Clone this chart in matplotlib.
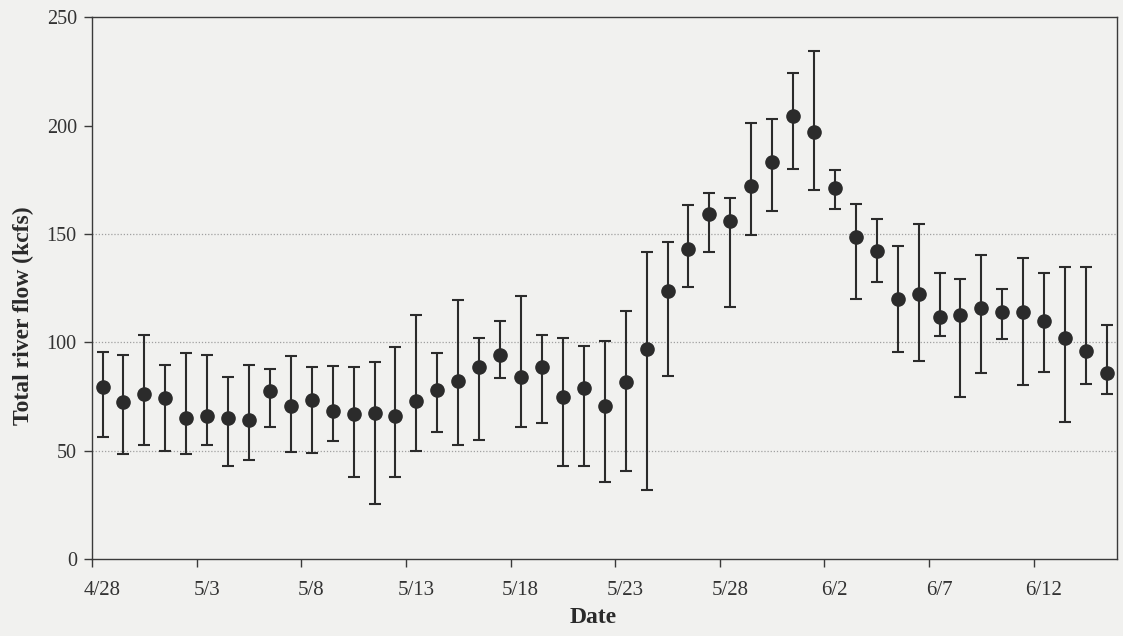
import numpy as np
import matplotlib
matplotlib.use("Agg")
import matplotlib.pyplot as plt
from matplotlib.transforms import ScaledTranslation

# tick labels along the date axis (every 5 days from 4/28)
tick_labels = ["4/28", "5/3", "5/8", "5/13", "5/18", "5/23", "5/28", "6/2", "6/7", "6/12"]

# daily mean total river flow (kcfs), 4/28 - 6/15
flow_mean = [79.3, 72.4, 76.2, 74.3, 65.0, 65.8, 65.0, 64.2, 77.6, 70.7,
             73.2, 68.4, 67.0, 67.3, 65.8, 72.7, 78.1, 82.3, 88.4, 94.0,
             84.0, 88.6, 74.7, 78.9, 70.4, 81.5, 97.0, 123.5, 143.1, 159.4,
             155.9, 172.0, 183.3, 204.4, 196.8, 171.3, 148.5, 142.0, 120.0, 122.5,
             111.5, 112.4, 115.8, 113.8, 114.0, 110.0, 102.2, 96.0, 85.8]

# upper and lower ends of the error bars (kcfs)
flow_high = [95.3, 94.0, 103.2, 89.3, 95.0, 94.3, 84.2, 89.6, 87.5, 93.8,
             88.4, 89.2, 88.4, 91.0, 97.8, 112.8, 95.0, 119.7, 102.0, 109.7,
             121.5, 103.5, 102.0, 98.1, 100.4, 114.6, 141.7, 146.4, 163.3, 169.0,
             166.7, 201.3, 203.2, 224.4, 234.2, 179.4, 164.0, 156.7, 144.6, 154.7,
             132.2, 129.4, 140.3, 124.8, 139.1, 132.2, 134.8, 134.8, 108.1]
flow_low = [56.2, 48.4, 52.4, 49.9, 48.5, 52.5, 42.7, 45.6, 61.1, 49.6,
            48.8, 54.4, 37.8, 25.6, 37.8, 50.0, 58.5, 52.4, 55.0, 83.5,
            61.1, 62.7, 43.0, 42.7, 35.4, 40.8, 31.9, 84.6, 125.4, 141.7,
            116.3, 149.4, 160.5, 179.8, 170.3, 161.7, 120.0, 128.0, 95.5, 91.6,
            102.7, 74.7, 85.8, 101.5, 80.4, 86.1, 63.2, 80.7, 76.2]

flow_mean = np.array(flow_mean)
err_up = np.array(flow_high) - flow_mean
err_dn = flow_mean - np.array(flow_low)
day = np.arange(len(flow_mean)) + 0.5

plt.rcParams['font.family'] = ['Liberation Serif', 'DejaVu Serif']
bg = '#f1f1ef'
ink = '#2b2b2b'

fig = plt.figure(figsize=(11.23, 6.36), dpi=100, facecolor=bg)
ax = fig.add_axes([0.082, 0.121, 0.913, 0.852], facecolor=bg)

for g in [50, 100, 150]:
    ax.axhline(g, color='#a0a0a0', lw=0.9, ls=(0, (1, 1.5)), zorder=1)

ax.errorbar(day, flow_mean, yerr=[err_dn, err_up], fmt='o', color=ink,
            ecolor=ink, elinewidth=1.5, capsize=4.5, capthick=1.5,
            markersize=9.5, zorder=3)

ax.set_xlim(0, 49)
ax.set_ylim(0, 250)
ax.set_xticks(np.arange(0, 46, 5))
ax.set_xticklabels(tick_labels)
ax.set_yticks([0, 50, 100, 150, 200, 250])

for s in ax.spines.values():
    s.set_color('#3a3a3a')
    s.set_linewidth(1.0)
ax.tick_params(axis='both', direction='out', color='#3a3a3a', labelcolor='#333333',
               length=6, width=1.0)
ax.tick_params(axis='y', labelsize=14.5, pad=5)
ax.tick_params(axis='x', labelsize=15, pad=10)

# date labels sit a little right of their ticks in the original
shift = ScaledTranslation(10 / 100, 0, fig.dpi_scale_trans)
for lab in ax.get_xticklabels():
    lab.set_transform(lab.get_transform() + shift)

ax.set_xlabel('Date', fontsize=17, fontweight='bold', color='#2a2a2a')
ax.xaxis.set_label_coords(0.489, -0.088)
ax.set_ylabel('Total river flow (kcfs)', fontsize=17, fontweight='bold',
              color='#2a2a2a')
ax.yaxis.set_label_coords(-0.057, 0.45)

fig.savefig('out.png', dpi=100, facecolor=bg)
